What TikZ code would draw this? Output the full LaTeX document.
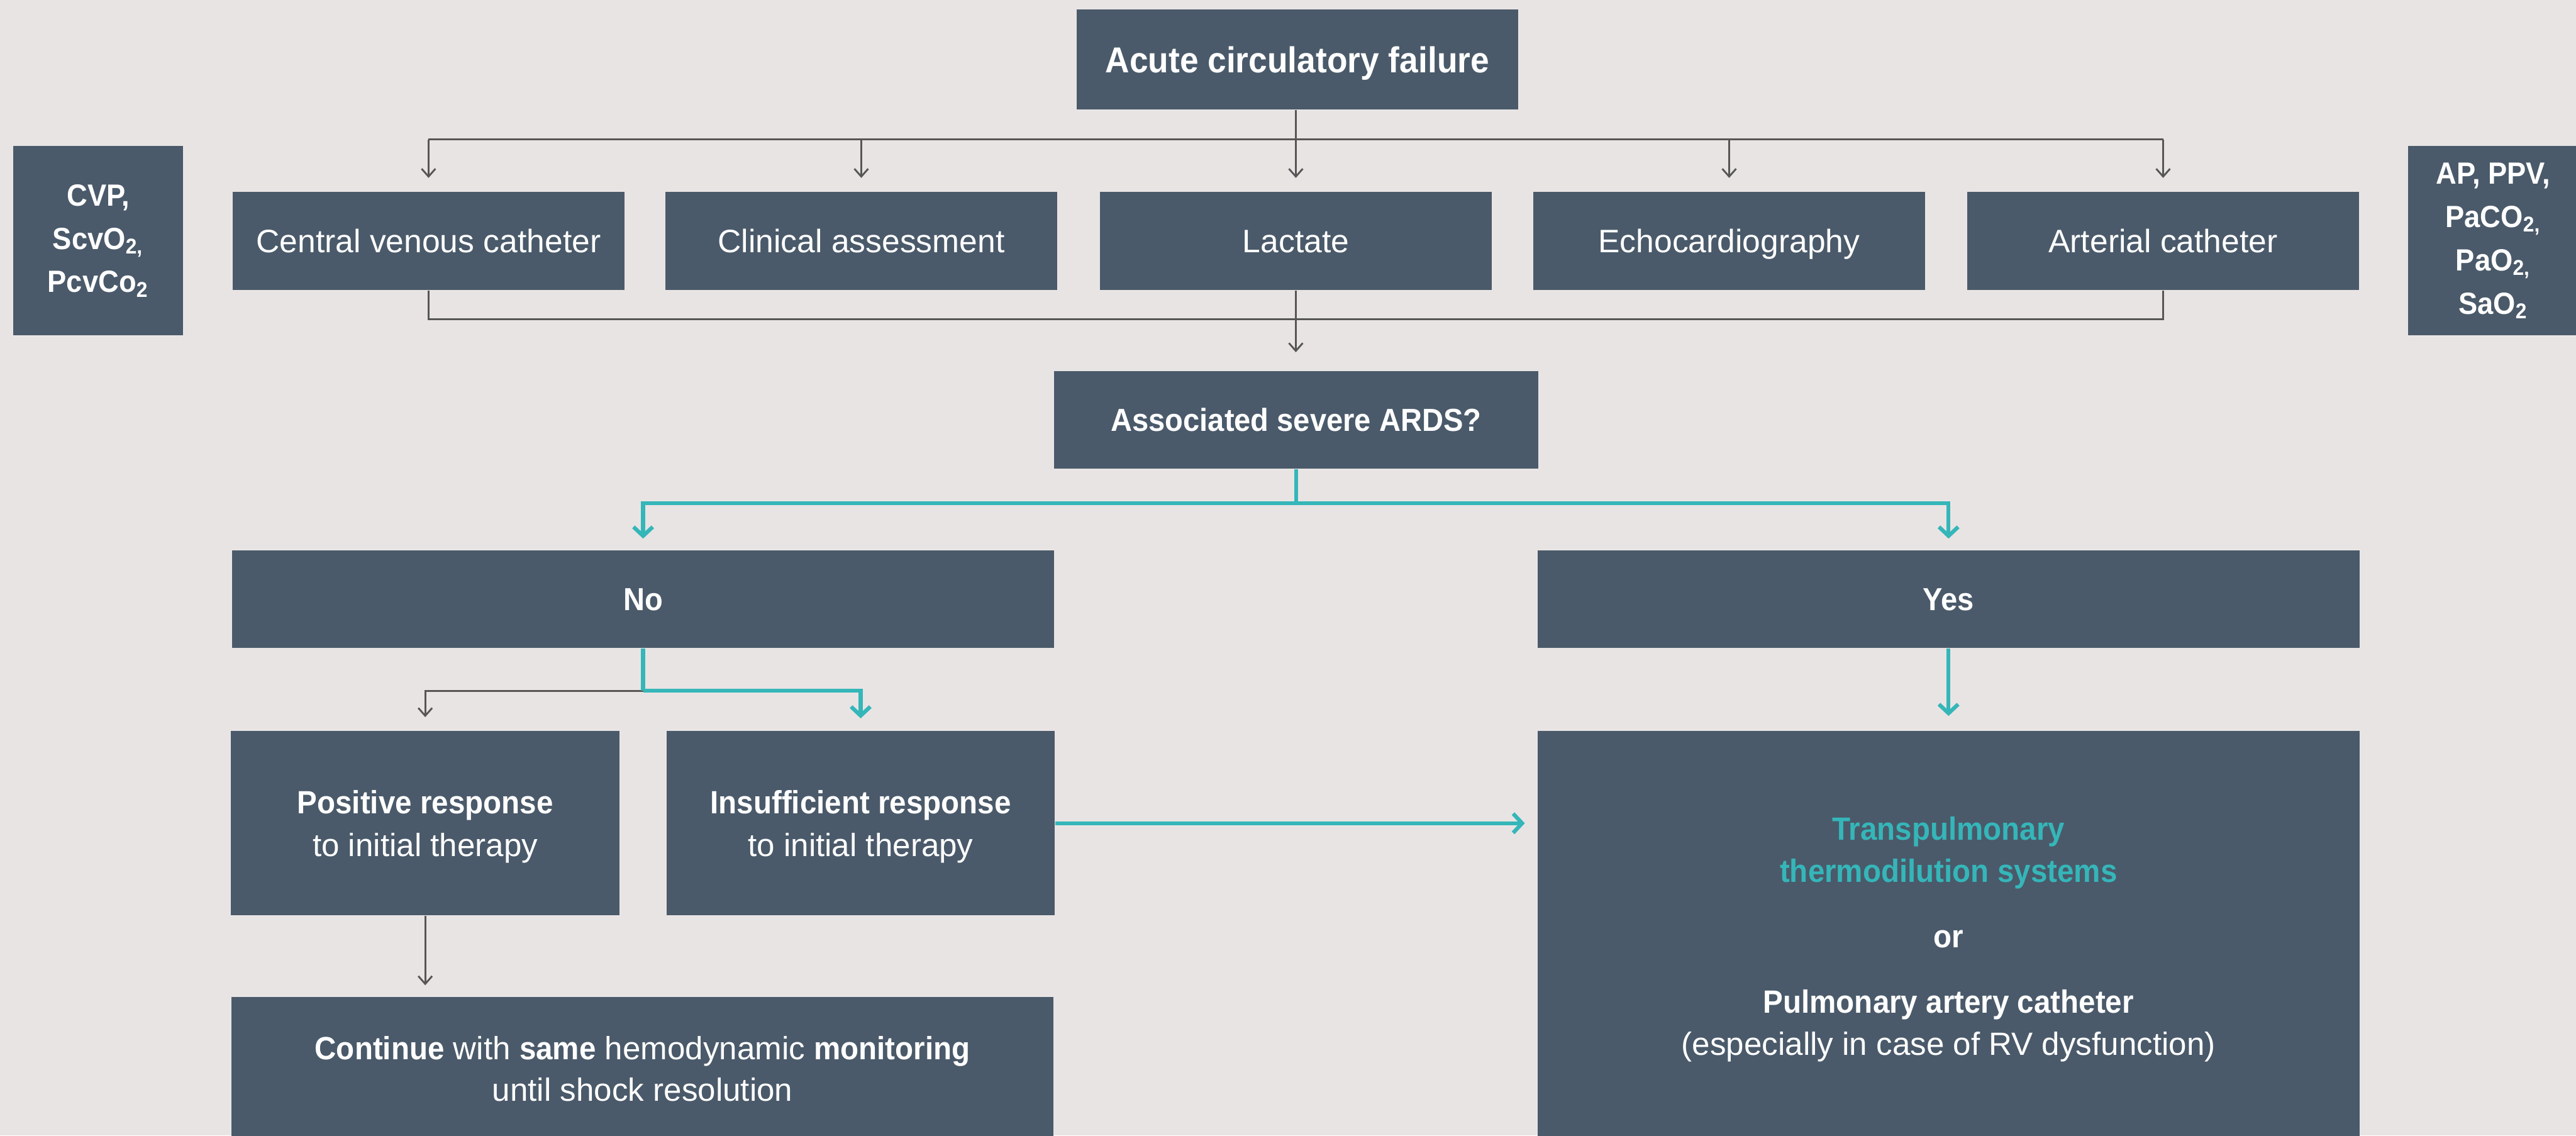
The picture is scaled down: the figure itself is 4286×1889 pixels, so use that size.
\documentclass[tikz,border=0pt]{standalone}
\usepackage{fontspec}
\setmainfont{Liberation Sans}[BoldFeatures={FakeStretch=0.93}]
\usetikzlibrary{arrows.meta}
\definecolor{bgc}{HTML}{E9E4E4}
\definecolor{boxc}{HTML}{4A5A6A}
\definecolor{tealc}{HTML}{35B6B9}
\definecolor{greyc}{HTML}{575555}
\newcommand\myfs[2]{\fontsize{#1}{#2}\selectfont}
\begin{document}
\begin{tikzpicture}[x=0.2pt,y=-0.2pt,
  box/.style={fill=boxc,text=white,inner sep=0pt,align=center},
  rowbox/.style={box,minimum width=130.4pt,minimum height=32.6pt,font=\myfs{10.8}{13},text height=7.7pt,text depth=0pt},
  monbox/.style={box,minimum width=56.6pt,minimum height=63pt,font=\bfseries\myfs{10.2}{14.4}},
  widebox/.style={box,minimum width=273.6pt,minimum height=32.4pt,font=\bfseries\myfs{10.6}{13},text height=7.6pt,text depth=0pt},
  halfbox/.style={box,minimum width=129.2pt,minimum height=61.4pt,font=\myfs{10.7}{14.2},text depth=0pt},
  gline/.style={draw=greyc,line width=0.6pt},
  garrow/.style={gline,-{Straight Barb[length=2.6pt,width=4.6pt]},shorten >=4.4pt},
  tline/.style={draw=tealc,line width=1.3pt},
  tarrow/.style={tline,-{Straight Barb[length=3pt,width=6.4pt]},shorten >=4pt},
]
\useasboundingbox (0,0) rectangle (4286,1889);
\fill[bgc] (0,0) rectangle (4286,1889);

% boxes
\node[box,minimum width=147pt,minimum height=33.2pt,font=\bfseries\myfs{12}{14},text height=8.6pt,text depth=0pt] (top) at (2158.5,99) {Acute circulatory failure};
\node[rowbox] (cvc) at (713,400.5) {Central venous catheter};
\node[rowbox] (clin) at (1433,400.5) {Clinical assessment};
\node[rowbox] (lact) at (2156,400.5) {Lactate};
\node[rowbox] (echo) at (2877,400.5) {Echocardiography};
\node[rowbox] (art) at (3599,400.5) {Arterial catheter};
\node[monbox] (lmon) at (163.5,400.5) {CVP,\\ScvO\textsubscript{2,}\\PcvCo\textsubscript{2}};
\node[monbox] (rmon) at (4148.5,400.5) {AP, PPV,\\PaCO\textsubscript{2,}\\PaO\textsubscript{2,}\\SaO\textsubscript{2}};
\node[box,minimum width=161pt,minimum height=32.6pt,font=\bfseries\myfs{10.6}{13},text height=7.6pt,text depth=0pt] (ards) at (2156.5,698.5) {Associated severe ARDS?};
\node[widebox] (no) at (1070,997) {No};
\node[widebox] (yes) at (3242,997) {Yes};
\node[halfbox] (pos) at (707.5,1369.5) {\textbf{Positive response}\\to initial therapy};
\node[halfbox] (ins) at (1432,1369.5) {\textbf{Insufficient response}\\to initial therapy};
\node[box,minimum width=273.6pt,minimum height=138.6pt,font=\myfs{10.7}{14.1}] (big) at (3242,1562.5)
  {\textcolor{tealc}{\textbf{Transpulmonary}}\\\textcolor{tealc}{\textbf{thermodilution systems}}\\[7.7pt]\textbf{or}\\[7.6pt]\textbf{Pulmonary artery catheter}\\(especially in case of RV dysfunction)};
\node[box,minimum width=273.6pt,minimum height=47.6pt,font=\myfs{10.7}{14}] (cont) at (1069,1778)
  {\textbf{Continue} with \textbf{same} hemodynamic \textbf{monitoring}\\until shock resolution};

% hubs
\coordinate (h1) at (2156,232);
\coordinate (h2) at (2156,531);
\coordinate (h3) at (2156,837);
\coordinate (h4) at (1070,1149);

% grey connectors, top part
\draw[gline] (h1 -| cvc.north) -- (h1 -| art.north);
\draw[garrow] (lact.north |- top.south) -- (lact.north);
\draw[garrow] (h1 -| cvc.north) -- (cvc.north);
\draw[garrow] (h1 -| clin.north) -- (clin.north);
\draw[garrow] (h1 -| echo.north) -- (echo.north);
\draw[garrow] (h1 -| art.north) -- (art.north);
\draw[gline] (cvc.south) -- (cvc.south |- h2) -- (art.south |- h2) -- (art.south);
\draw[garrow,shorten >=6pt] (lact.south) -- (lact.south |- ards.north);

% teal split
\draw[tline] (ards.south) -- (ards.south |- h3);
\draw[tline,{Straight Barb[length=3pt,width=6.4pt]}-{Straight Barb[length=3pt,width=6.4pt]},shorten <=3.8pt,shorten >=3.8pt]
  (no.north) -- (no.north |- h3) -- (yes.north |- h3) -- (yes.north);

% below No
\draw[garrow] (h4) -- (h4 -| pos.north) -- (pos.north);
\draw[tline] (no.south) -- (h4);
\draw[tarrow] (h4) -- (h4 -| ins.north) -- (ins.north);

% right side
\draw[tarrow,shorten >=4.8pt] (yes.south) -- (big.north);
\draw[tarrow] (ins.east) -- (ins.east -| big.west);
\draw[garrow,shorten >=3.8pt] (pos.south) -- (pos.south |- cont.north);
\end{tikzpicture}
\end{document}
